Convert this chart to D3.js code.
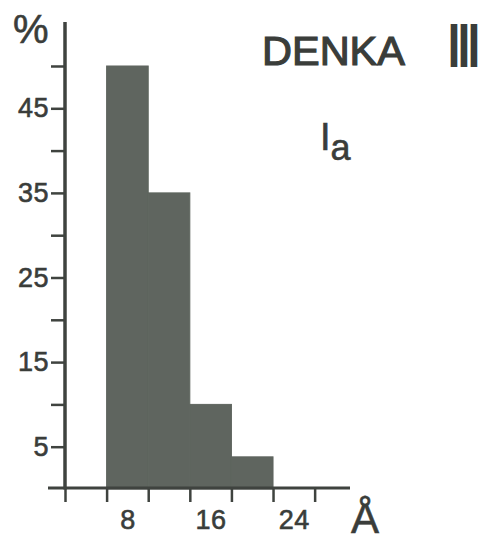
<!DOCTYPE html>
<html>
<head>
<meta charset="utf-8">
<script src="https://cdn.jsdelivr.net/npm/d3@7"></script>
<style>
  html, body { margin: 0; padding: 0; background: #fff; }
  svg { display: block; }
  text { font-family: "Liberation Sans", Arial, sans-serif; fill: #3a3d3a; }
</style>
</head>
<body>
<svg id="chart" width="481" height="541"></svg>
<script>
// Pore-width histogram bins (Å) and their share (%)
const binStarts = [6, 10, 14, 18];
const binEnds = [10, 14, 18, 22];
const percents = [50, 35, 10, 3.8];

// Axis ticks and labels
const xTickValues = [2, 6, 10, 14, 18, 22, 26];
const xLabelValues = [8, 16, 24];
const yTickValues = [5, 10, 15, 20, 25, 30, 35, 40, 45, 50];
const yLabelValues = [5, 15, 25, 35, 45];

const svg = d3.select("#chart");
const ink = "#3f433f";
const textInk = "#3a3d3a";
const barFill = "#5f655f";

const x = d3.scaleLinear().domain([2, 29.4]).range([65, 350]);
const y = d3.scaleLinear().domain([0, 55.2]).range([489, 22]);

// Bars (same-colour outline so adjacent bins merge into one silhouette)
svg.append("g").selectAll("rect")
  .data(percents)
  .join("rect")
  .attr("x", (d, i) => x(binStarts[i]))
  .attr("width", (d, i) => x(binEnds[i]) - x(binStarts[i]))
  .attr("y", d => y(d))
  .attr("height", d => y(0) - y(d))
  .attr("fill", barFill)
  .attr("stroke", barFill)
  .attr("stroke-width", 1);

// X axis: ticks at bin edges, labels at bin centres
const xAxis = svg.append("g")
  .attr("transform", `translate(0,${y(0) - 1})`)
  .call(d3.axisBottom(x).tickValues(xTickValues).tickFormat("").tickSize(14).tickSizeOuter(0));
xAxis.select(".domain").remove();
xAxis.selectAll(".tick line").attr("stroke", ink).attr("stroke-width", 2.5);
svg.append("line")
  .attr("x1", 48).attr("x2", x(29.4))
  .attr("y1", y(0) - 1).attr("y2", y(0) - 1)
  .attr("stroke", ink).attr("stroke-width", 3);

const xLabels = svg.append("g")
  .attr("transform", `translate(0,${y(0)})`)
  .call(d3.axisBottom(x).tickValues(xLabelValues).tickSize(0).tickPadding(21));
xLabels.select(".domain").remove();
xLabels.selectAll("text")
  .style("font-size", "27px")
  .style("letter-spacing", "0.5px")
  .style("fill", textInk)
  .attr("stroke", textInk).attr("stroke-width", 0.6);

// Y axis
const yAxis = svg.append("g")
  .attr("transform", `translate(${x(2)},0)`)
  .call(d3.axisLeft(y).tickValues(yTickValues)
    .tickFormat(d => yLabelValues.includes(d) ? d : "")
    .tickSize(14).tickPadding(2).tickSizeOuter(0));
yAxis.select(".domain").remove();
yAxis.selectAll(".tick line").attr("stroke", ink).attr("stroke-width", 2.5);
yAxis.selectAll("text")
  .style("font-size", "27px")
  .style("letter-spacing", "0.5px")
  .style("fill", textInk)
  .attr("stroke", textInk).attr("stroke-width", 0.6);
svg.append("line")
  .attr("x1", x(2)).attr("x2", x(2))
  .attr("y1", y(55.2)).attr("y2", y(0) + 0.5)
  .attr("stroke", ink).attr("stroke-width", 3.5);

// Unit labels
svg.append("text").attr("x", 13).attr("y", 43)
  .style("font-size", "40px")
  .attr("stroke", textInk).attr("stroke-width", 0.6)
  .text("%");
svg.append("text").attr("x", 365).attr("y", 533)
  .attr("text-anchor", "middle").style("font-size", "42px")
  .attr("stroke", textInk).attr("stroke-width", 0.6)
  .text("Å");

// Sample title
svg.append("text").attr("x", 262).attr("y", 65)
  .style("font-size", "41.5px")
  .attr("stroke", textInk).attr("stroke-width", 1.2)
  .text("DENKA");
svg.append("text").attr("x", 0).attr("y", 0)
  .attr("text-anchor", "middle")
  .style("font-family", "'DejaVu Sans'")
  .style("font-weight", "bold")
  .style("font-size", "58px")
  .attr("transform", "translate(464,67) scale(0.6,1)")
  .text("Ⅲ");

// Fraction label I with subscript a
const ia = svg.append("text").attr("x", 320).attr("y", 150)
  .style("font-size", "38px")
  .attr("stroke", textInk).attr("stroke-width", 0.6);
ia.append("tspan").text("I");
ia.append("tspan").attr("dy", 10).style("font-size", "36px").text("a");
</script>
</body>
</html>
